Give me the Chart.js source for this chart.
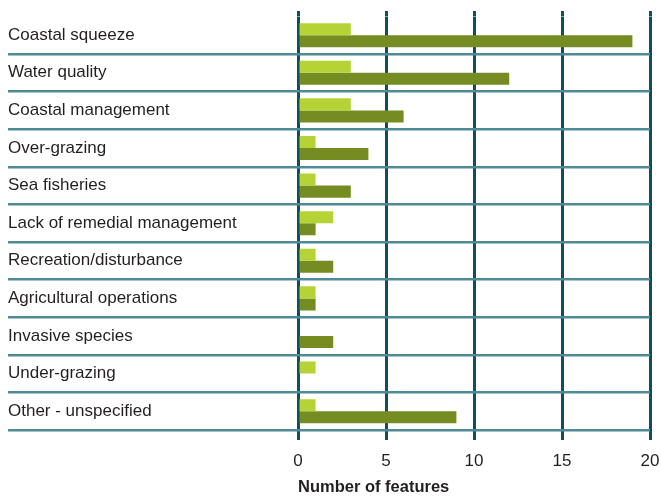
<!DOCTYPE html>
<html>
<head>
<meta charset="utf-8">
<script src="https://cdn.jsdelivr.net/npm/chart.js@4"></script>
<style>
  html, body { margin: 0; padding: 0; background: #ffffff; }
  canvas { display: block; }
</style>
</head>
<body>
<canvas id="c" width="662" height="496"></canvas>
<script>
const categories = [
  'Coastal squeeze',
  'Water quality',
  'Coastal management',
  'Over-grazing',
  'Sea fisheries',
  'Lack of remedial management',
  'Recreation/disturbance',
  'Agricultural operations',
  'Invasive species',
  'Under-grazing',
  'Other - unspecified'
];
const seriesLight = [3, 3, 3, 1, 1, 2, 1, 1, 0, 1, 1];
const seriesDark = [19, 12, 6, 4, 3, 1, 2, 1, 2, 0, 9];
const xTickStep = 5;
const xMin = 0;
const xMax = 20;
const xTitle = 'Number of features';

const FONT = "'Liberation Sans', Arial, sans-serif";
const TEXT = '#231f20';
const VLINE = '#0f4f5d';
const HLINE = '#4f8b96';
const HLINE_BOTTOM = '#1b5a66';

new Chart(document.getElementById('c'), {
  type: 'bar',
  data: {
    labels: categories,
    datasets: [
      { label: 'Series 1', data: seriesLight, backgroundColor: '#b5d334', borderWidth: 0,
        categoryPercentage: 0.64, barPercentage: 1.0 },
      { label: 'Series 2', data: seriesDark, backgroundColor: '#748c22', borderWidth: 0,
        categoryPercentage: 0.64, barPercentage: 1.0 }
    ]
  },
  options: {
    indexAxis: 'y',
    responsive: false,
    animation: false,
    devicePixelRatio: 1,
    layout: { padding: { left: 8, right: 12, top: 11, bottom: 0 } },
    plugins: { legend: { display: false }, tooltip: { enabled: false } },
    scales: {
      x: {
        type: 'linear',
        position: 'bottom',
        min: xMin, max: xMax,
        z: 1,
        border: { display: false },
        grid: { color: VLINE, lineWidth: 3, tickLength: 10, drawTicks: true },
        ticks: { stepSize: xTickStep, color: TEXT, padding: 2.5,
                 font: { family: FONT, size: 17, lineHeight: 37 / 17 } },
        title: { display: true, text: xTitle, color: TEXT, align: 'start',
                 font: { family: FONT, size: 16.5, weight: 'bold', lineHeight: 17 / 16.5 },
                 padding: { top: 0, bottom: 0 } },
        afterFit: (scale) => { scale.height = 66; }
      },
      x2: {
        type: 'linear',
        position: 'top',
        min: xMin, max: xMax,
        z: 1,
        border: { display: false },
        grid: { color: VLINE, lineWidth: 3, tickLength: 5.4, drawOnChartArea: false },
        ticks: { stepSize: xTickStep, display: false },
        afterFit: (scale) => { scale.height = 5.4; }
      },
      y: {
        type: 'category',
        position: 'left',
        offset: true,
        border: { display: false },
        grid: {
          offset: true,
          tickLength: 290,
          color: (ctx) => ctx.index === 0 ? 'rgba(0,0,0,0)' : (ctx.index === categories.length ? HLINE_BOTTOM : HLINE),
          lineWidth: (ctx) => ctx.index === categories.length ? 3.5 : 2.5
        },
        ticks: { crossAlign: 'far', color: TEXT, padding: 0,
                 font: { family: FONT, size: 17 } },
        afterFit: (scale) => { scale.width = 290; }
      }
    }
  }
});
</script>
</body>
</html>
